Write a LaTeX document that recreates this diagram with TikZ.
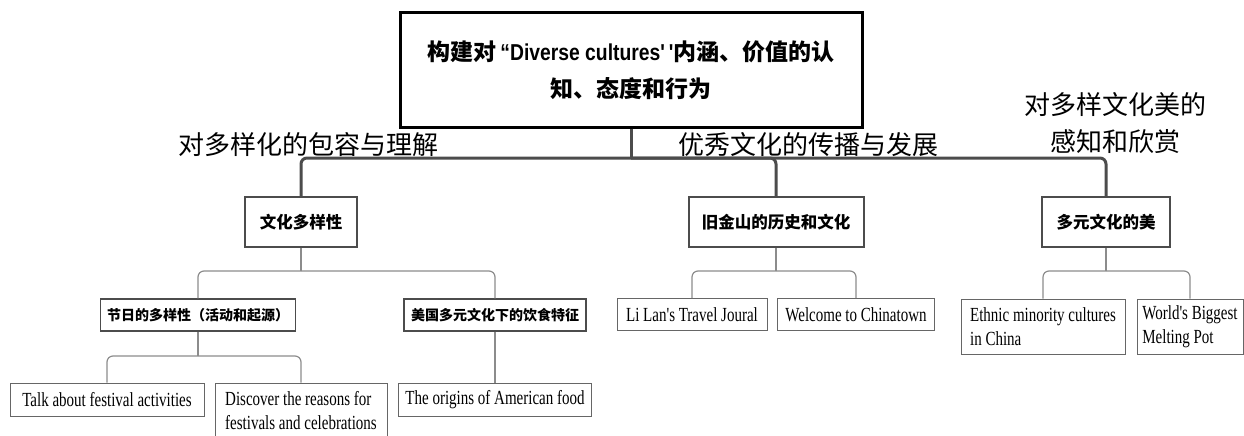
\documentclass[tikz,border=0pt]{standalone}
\usepackage{fontspec}
\newfontfamily\cjk{Noto Sans CJK SC}
\newfontfamily\enfont{Liberation Serif}[FakeStretch=0.75]
\newfontfamily\titlelat{Liberation Sans}[FakeStretch=0.84]

\begin{document}
\begin{tikzpicture}[x=1pt, y=-1pt,
    every node/.style={inner sep=0pt, text=black},
    rootbox/.style={draw=black, line width=3pt, minimum width=462pt, minimum height=114pt,
        align=center, font=\cjk\bfseries\fontsize{23}{37}\selectfont},
    topic/.style={draw=black!70, line width=2pt, minimum height=50pt,
        font=\cjk\bfseries\fontsize{16.5}{20}\selectfont},
    subtopic/.style={draw=black!70, line width=1.3pt, minimum height=32pt,
        font=\cjk\bfseries\fontsize{14}{18}\selectfont},
    leaf/.style={draw=black!60, line width=0.9pt, minimum height=32pt, align=left,
        font=\enfont\fontsize{20}{24}\selectfont},
    tag/.style={align=center, font=\cjk\fontsize{26}{37}\selectfont},
    mainline/.style={draw=black!70, line width=3pt, rounded corners=6pt},
    subline/.style={draw=black!45, line width=1.2pt, rounded corners=6pt}]

    \useasboundingbox (0,0) rectangle (1244,436);

    % Root and branch labels
    \node[rootbox] (root) at (631,70) {{\cjk 构建对}\,{\titlelat “Diverse cultures{'}\,{'}}{\cjk 内涵、价值的认}\\知、态度和行为};
    \node[tag] (tagA) at (308,145) {对多样化的包容与理解};
    \node[tag] (tagB) at (808,145) {优秀文化的传播与发展};
    \node[tag] (tagC) at (1115,123) {对多样文化美的\\感知和欣赏};

    % Topics
    \node[topic, minimum width=112pt] (divers) at (301,222) {文化多样性};
    \node[topic, minimum width=175pt] (sanfran) at (776,222) {旧金山的历史和文化};
    \node[topic, minimum width=128pt] (beauty) at (1106,222) {多元文化的美};
    \coordinate (hub) at (631,158);
    \draw[mainline] (root.south) -- (hub);
    \draw[mainline] (hub) -| (divers.north);
    \draw[mainline] (hub) -| (sanfran.north);
    \draw[mainline] (hub) -| (beauty.north);

    % Branch 1
    \node[subtopic, minimum width=195pt] (fest) at (198,315) {节日的多样性（活动和起源）};
    \node[subtopic, minimum width=182pt] (food) at (495,315) {美国多元文化下的饮食特征};
    \node[leaf, minimum width=194pt, minimum height=33pt] (talk) at (107,399.5) {Talk about festival activities};
    \node[leaf, minimum width=172pt, minimum height=55pt] (reason) at (301,410.5) {Discover the reasons for\\festivals and celebrations};
    \node[leaf, minimum width=193pt, minimum height=33pt] (origin) at (495,399.5) {The origins of American food};
    \coordinate (forkA) at (301,271);
    \coordinate (forkD) at (198,356);
    \draw[subline] (divers.south) -- (forkA);
    \draw[subline] (forkA) -| (fest.north);
    \draw[subline] (forkA) -| (food.north);
    \draw[subline] (fest.south) -- (forkD);
    \draw[subline] (forkD) -| (talk.north);
    \draw[subline] (forkD) -| (reason.north);
    \draw[subline] (food.south) -- (origin.north);

    % Branch 2
    \node[leaf, minimum width=150pt] (lilan) at (692,314.5) {Li Lan's Travel Joural};
    \node[leaf, minimum width=157pt] (china) at (856,314.5) {Welcome to Chinatown};
    \coordinate (forkB) at (776,271);
    \draw[subline] (sanfran.south) -- (forkB);
    \draw[subline] (forkB) -| (lilan.north);
    \draw[subline] (forkB) -| (china.north);

    % Branch 3
    \node[leaf, minimum width=164pt, minimum height=55pt] (ethnic) at (1043,326.5) {Ethnic minority cultures\\in China};
    \node[leaf, minimum width=106pt, minimum height=55pt] (melt) at (1190,326.5) {World's Biggest\\Melting Pot};
    \coordinate (forkC) at (1106,271);
    \draw[subline] (beauty.south) -- (forkC);
    \draw[subline] (forkC) -| (ethnic.north);
    \draw[subline] (forkC) -| (melt.north);

\end{tikzpicture}
\end{document}
